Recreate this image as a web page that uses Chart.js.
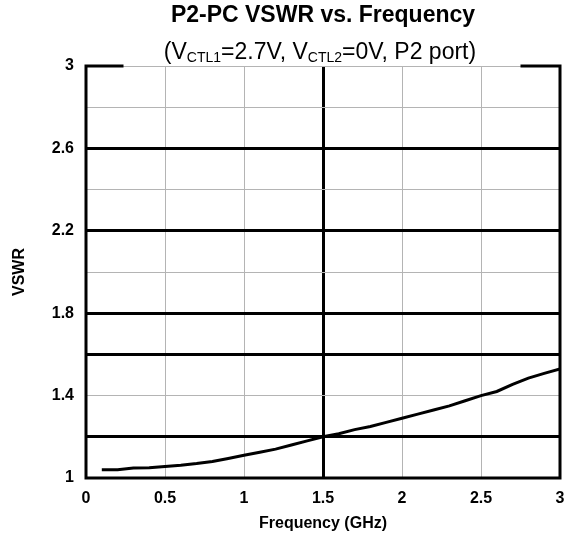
<!DOCTYPE html>
<html>
<head>
<meta charset="utf-8">
<script src="https://cdn.jsdelivr.net/npm/chart.js@4.4.0/dist/chart.umd.min.js"></script>
<style>
  body { margin: 0; background: #fff; }
  #wrap { position: relative; width: 567px; height: 543px; font-family: "Liberation Sans", Arial, sans-serif; }
  #title { position: absolute; left: 86px; width: 474px; top: 1px; text-align: center; font-weight: bold; font-size: 23px; line-height: 27px; color: #000; }
  #subtitle { position: absolute; left: 80px; width: 480px; top: 38px; text-align: center; font-size: 23px; line-height: 27px; color: #000; }
  #subtitle sub { font-size: 14px; vertical-align: -3px; line-height: 0; }
  canvas { position: absolute; left: 0; top: 0; }
</style>
</head>
<body>
<div id="wrap">
  <canvas id="chart" width="567" height="543"></canvas>
  <div id="title">P2-PC VSWR vs. Frequency</div>
  <div id="subtitle">(V<sub>CTL1</sub>=2.7V, V<sub>CTL2</sub>=0V, P2 port)</div>
</div>
<script>
// Tần số (GHz) và VSWR
const freqs = [0.1, 0.2, 0.3, 0.4, 0.5, 0.6, 0.7, 0.8, 0.9, 1.0,
               1.1, 1.2, 1.3, 1.4, 1.5, 1.6, 1.7, 1.8, 1.9, 2.0,
               2.1, 2.2, 2.3, 2.4, 2.5, 2.6, 2.7, 2.8, 2.9, 3.0];
const vswr = [1.04, 1.04, 1.048, 1.05, 1.056, 1.062, 1.07, 1.08, 1.095, 1.11,
              1.125, 1.14, 1.16, 1.18, 1.20, 1.215, 1.235, 1.25, 1.27, 1.29,
              1.31, 1.33, 1.35, 1.375, 1.40, 1.42, 1.455, 1.485, 1.508, 1.53];
const yLabels = [1, 1.4, 1.8, 2.2, 2.6, 3];
const yThick = [1.2, 1.6, 1.8, 2.2, 2.6];
const xThick = [1.5];

const r10 = v => Math.round(v * 10);

// khung viền, có khoảng trống ở cạnh trên cho phụ đề
const framePlugin = {
    id: 'frame',
    afterDatasetsDraw(chart) {
        const { ctx, chartArea: a } = chart;
        ctx.save();
        ctx.strokeStyle = '#000';
        ctx.lineWidth = 3;
        ctx.lineCap = 'square';
        ctx.beginPath();
        ctx.moveTo(122, a.top);
        ctx.lineTo(a.left, a.top);
        ctx.lineTo(a.left, a.bottom);
        ctx.lineTo(a.right, a.bottom);
        ctx.lineTo(a.right, a.top);
        ctx.lineTo(522, a.top);
        ctx.stroke();
        ctx.restore();
    }
};

const ctx = document.getElementById('chart').getContext('2d');
new Chart(ctx, {
    type: 'line',
    data: {
        datasets: [{
            data: freqs.map((f, i) => ({ x: f, y: vswr[i] })),
            borderColor: '#000',
            borderWidth: 3,
            pointRadius: 0,
            tension: 0,
            fill: false
        }]
    },
    options: {
        responsive: false,
        animation: false,
        layout: { padding: { top: 66, right: 7, left: 0, bottom: 0 } },
        plugins: { legend: { display: false }, tooltip: { enabled: false } },
        scales: {
            x: {
                type: 'linear',
                min: 0, max: 3,
                afterFit(s) { s.height = 65; s.paddingLeft = 0; s.paddingRight = 0; },
                ticks: {
                    stepSize: 0.5,
                    padding: 11,
                    color: '#000',
                    font: { family: 'Liberation Sans', weight: 'bold', size: 16 },
                    callback: v => String(v)
                },
                grid: {
                    drawTicks: false,
                    color: c => xThick.includes(c.tick.value) ? '#000' : '#b4b4b4',
                    lineWidth: c => xThick.includes(c.tick.value) ? 3 : 1
                },
                border: { display: false },
                title: {
                    display: true,
                    text: 'Frequency (GHz)',
                    color: '#000',
                    font: { family: 'Liberation Sans', weight: 'bold', size: 16 },
                    padding: { top: 0, bottom: 10 }
                }
            },
            y: {
                min: 1, max: 3,
                afterFit(s) { s.width = 86; },
                ticks: {
                    stepSize: 0.2,
                    padding: 12,
                    autoSkip: false,
                    color: '#000',
                    font: { family: 'Liberation Sans', weight: 'bold', size: 16 },
                    callback: v => yLabels.some(l => r10(l) === r10(v)) ? String(Math.round(v * 10) / 10) : ''
                },
                grid: {
                    drawTicks: false,
                    color: c => yThick.some(t => r10(t) === r10(c.tick.value)) ? '#000' : '#b4b4b4',
                    lineWidth: c => yThick.some(t => r10(t) === r10(c.tick.value)) ? 3 : 1
                },
                border: { display: false },
                title: {
                    display: true,
                    text: 'VSWR',
                    color: '#000',
                    font: { family: 'Liberation Sans', weight: 'bold', size: 16 },
                    padding: { top: 10, bottom: 0 }
                }
            }
        }
    },
    plugins: [framePlugin]
});
</script>
</body>
</html>
